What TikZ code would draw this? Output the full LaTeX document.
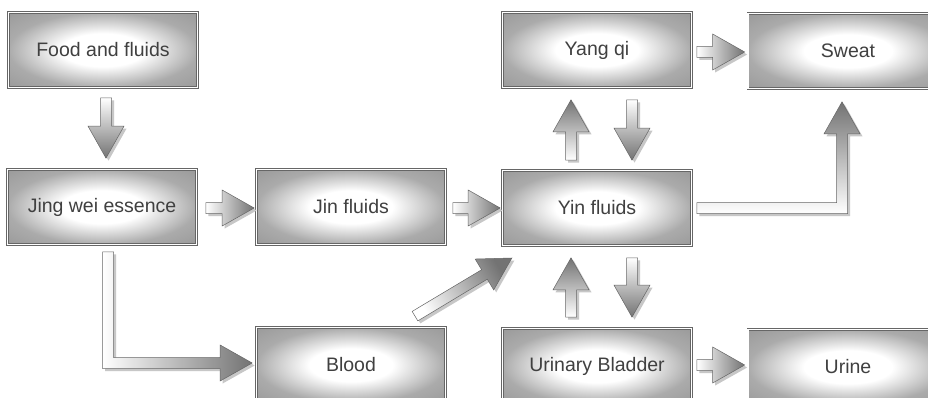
\documentclass[tikz,border=0pt]{standalone}
\usepackage{fontspec}
\setmainfont{Liberation Sans}
\usetikzlibrary{calc}
\pgfdeclareradialshading{boxglow}{\pgfpoint{0bp}{0bp}}{%
  color(0bp)=(white); color(11bp)=(white); color(25bp)=(black!33); color(36bp)=(black!40); color(50bp)=(black!40)}
\tikzset{
  box/.style={rectangle,minimum width=189pt,minimum height=75pt,shade,shading=boxglow,
              draw=black!60,line width=0.7pt,double=white,double distance=1.1pt,
              text=black!75,font=\fontsize{19.5}{22}\selectfont},
  wide/.style={minimum width=200pt},
  barrow/.style={draw=black!60,line width=0.5pt,top color=white,bottom color=black!55,line join=miter},
  bshadow/.style={fill=black!22},
}
% straight block arrow, drawn in the frame of its own direction
\newcommand\baShape{(0pt,-5.5pt) -- (\baLen pt-32pt,-5.5pt) -- (\baLen pt-32pt,-18pt) -- (\baLen pt,0pt)
  -- (\baLen pt-32pt,18pt) -- (\baLen pt-32pt,5.5pt) -- (0pt,5.5pt) -- cycle}
% elbow block arrow: start sits on the +y side of the corner
\newcommand\ebShape{(-5.5pt,\baD pt) -- (-5.5pt,-5.5pt) -- (\baLen pt-32pt,-5.5pt) -- (\baLen pt-32pt,-18pt)
  -- (\baLen pt,0pt) -- (\baLen pt-32pt,18pt) -- (\baLen pt-32pt,5.5pt) -- (5.5pt,5.5pt) -- (5.5pt,\baD pt) -- cycle}
\newcommand\blockarrow[2]{%
  \path let \p1=($(#2)-(#1)$) in \pgfextra{%
    \pgfmathsetmacro\baLen{veclen(\x1,\y1)}\xdef\baLen{\baLen}%
    \pgfmathsetmacro\baAng{atan2(\y1,\x1)}\xdef\baAng{\baAng}%
    \pgfmathsetmacro\baSh{\baAng+90}\xdef\baSh{\baSh}};
  \fill[bshadow,shift={(#1)},shift={(2.5pt,-2.5pt)},rotate=\baAng] \baShape;
  \draw[barrow,shading angle=\baSh,shift={(#1)},rotate=\baAng] \baShape;
}
\newcommand\elbowarrow[3]{%
  \path let \p1=($(#3)-(#2)$), \p2=($(#1)-(#2)$) in \pgfextra{%
    \pgfmathsetmacro\baLen{veclen(\x1,\y1)}\xdef\baLen{\baLen}%
    \pgfmathsetmacro\baD{veclen(\x2,\y2)}\xdef\baD{\baD}%
    \pgfmathsetmacro\baAng{atan2(\y1,\x1)}\xdef\baAng{\baAng}%
    \pgfmathsetmacro\baSh{\baAng+90}\xdef\baSh{\baSh}};
  \fill[bshadow,shift={(#2)},shift={(2.5pt,-2.5pt)},rotate=\baAng] \ebShape;
  \draw[barrow,shading angle=\baSh,shift={(#2)},rotate=\baAng] \ebShape;
}
\begin{document}
\begin{tikzpicture}[x=1pt,y=-1pt]
  \useasboundingbox (0,0) rectangle (928,398);
  \fill[white] (0,0) rectangle (928,398);
  \clip (0,0) rectangle (928,398);

  \node[box] (food) at (103,50) {Food and fluids};
  \node[box] (jing) at (102,207) {Jing wei essence};
  \node[box] (jin) at (351,207) {Jin fluids};
  \node[box] (yin) at (597,208) {Yin fluids};
  \node[box] (yang) at (597,50) {Yang qi};
  \node[box,wide] (sweat) at (848,51) {Sweat};
  \node[box] (blood) at (351,365) {Blood};
  \node[box] (bladder) at (597,366) {Urinary Bladder};
  \node[box,wide] (urine) at (848,367) {Urine};

  % straight block arrows
  \blockarrow{$(food.south)+(3,10)$}{$(jing.north)+(4,-11)$}
  \blockarrow{$(jing.east)+(9,1)$}{$(jin.west)+(-2,1)$}
  \blockarrow{$(jin.east)+(7,1)$}{$(yin.west)+(-2,0)$}
  \blockarrow{$(yang.east)+(5,2)$}{$(sweat.west)+(-3,1)$}
  \blockarrow{$(bladder.east)+(5,-1)$}{$(urine.west)+(-3,-2)$}
  \blockarrow{$(yin.north)+(-26,-10)$}{$(yang.south)+(-26,12)$}
  \blockarrow{$(yang.south)+(35,12)$}{$(yin.north)+(35,-10)$}
  \blockarrow{$(bladder.north)+(-26,-11)$}{$(yin.south)+(-26,12)$}
  \blockarrow{$(yin.south)+(35,12)$}{$(bladder.north)+(35,-11)$}
  \blockarrow{$(blood.north)+(64,-11)$}{$(yin.south west)+(10,12)$}

  % elbow arrows
  \coordinate (js) at ($(jing.south)+(6,7)$);
  \coordinate (be) at ($(blood.west)+(-4,-2)$);
  \coordinate (jc) at (js |- be);
  \elbowarrow{js}{jc}{be}
  \coordinate (ys) at ($(yin.east)+(5,0)$);
  \coordinate (se) at ($(sweat.south)+(-6,13)$);
  \coordinate (yc) at (se |- ys);
  \elbowarrow{ys}{yc}{se}
\end{tikzpicture}
\end{document}
